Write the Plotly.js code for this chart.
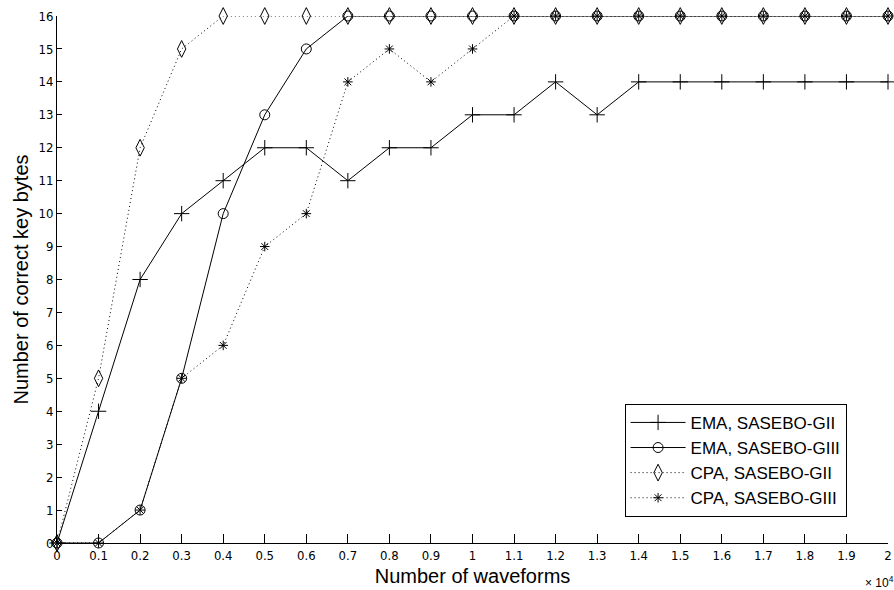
<!DOCTYPE html>
<html>
<head>
<meta charset="utf-8">
<script src="https://cdn.plot.ly/plotly-3.0.1.min.js"></script>
<style>html,body{margin:0;padding:0;background:#fff;}#chart{width:894px;height:590px;}</style>
</head>
<body>
<div id="chart"></div>
<script>
// x values in units of 10^4 waveforms
var waveforms = [0,0.1,0.2,0.3,0.4,0.5,0.6,0.7,0.8,0.9,1.0,1.1,1.2,1.3,1.4,1.5,1.6,1.7,1.8,1.9,2.0];
var emaGII  = [0,4,8,10,11,12,12,11,12,12,13,13,14,13,14,14,14,14,14,14,14];
var emaGIII = [0,0,1,5,10,13,15,16,16,16,16,16,16,16,16,16,16,16,16,16,16];
var cpaGII  = [0,5,12,15,16,16,16,16,16,16,16,16,16,16,16,16,16,16,16,16,16];
var cpaGIII = [0,0,1,5,6,9,10,14,15,14,15,16,16,16,16,16,16,16,16,16,16];
var seriesNames = ["EMA, SASEBO-GII","EMA, SASEBO-GIII","CPA, SASEBO-GII","CPA, SASEBO-GIII"];
var xTickVals = waveforms;
var xTickText = ["0","0.1","0.2","0.3","0.4","0.5","0.6","0.7","0.8","0.9","1","1.1","1.2","1.3","1.4","1.5","1.6","1.7","1.8","1.9","2"];
var yTickVals = [0,1,2,3,4,5,6,7,8,9,10,11,12,13,14,15,16];

function tr(y, name, dash, symbol, size){
  return {x: waveforms, y: y, name: name, type:'scatter', mode:'lines+markers', cliponaxis:false,
    line:{color:'#000', width:1, dash:dash},
    marker:{symbol:symbol, size:size, color:'#000', line:{color:'#000', width:1}}};
}
var data = [
  tr(emaGII, seriesNames[0], 'solid', 'cross-thin-open', 11),
  tr(emaGIII, seriesNames[1], 'solid', 'circle-open', 10),
  tr(cpaGII, seriesNames[2], '1px,3px', 'diamond-tall-open', 12),
  tr(cpaGIII, seriesNames[3], '1px,3px', 'asterisk-open', 8)
];
var tickFont = {family:'Liberation Sans Narrow, DejaVu Sans Condensed, Arial', size:13, color:'#000'};
var layout = {
  width:894, height:590,
  margin:{l:57, r:6, t:16, b:47},
  paper_bgcolor:'#fff', plot_bgcolor:'#fff',
  showlegend:true,
  legend:{x:0.683, y:0.264, xanchor:'left', yanchor:'top', bgcolor:'#fff', bordercolor:'#000', borderwidth:1,
    font:{family:'Liberation Sans, Arial', size:17, color:'#000'}, tracegroupgap:0, itemwidth:55},
  xaxis:{range:[0,2], tickmode:'array', tickvals:xTickVals, ticktext:xTickText, ticks:'inside', ticklen:9, tickwidth:1, tickcolor:'#000',
    showline:true, linecolor:'#000', linewidth:1, showgrid:false, zeroline:false, tickfont:tickFont,
    title:{text:'Number of waveforms', font:{family:'Liberation Sans, Arial', size:20, color:'#000'}, standoff:7}},
  yaxis:{range:[0,16], tickmode:'array', tickvals:yTickVals, ticks:'inside', ticklen:5, tickwidth:1, tickcolor:'#000',
    showline:true, linecolor:'#000', linewidth:1, showgrid:false, zeroline:false, tickfont:tickFont,
    title:{text:'Number of correct key bytes', font:{family:'Liberation Sans, Arial', size:20, color:'#000'}, standoff:4}},
  annotations:[{xref:'paper', yref:'paper', x:1.005, y:-0.055, xanchor:'right', yanchor:'top', showarrow:false, xshift:4,
    text:'× 10<sup>4</sup>', font:{family:'Liberation Sans Narrow, Arial', size:12, color:'#000'}}]
};
Plotly.newPlot('chart', data, layout, {displayModeBar:false, staticPlot:true});
</script>
</body>
</html>
